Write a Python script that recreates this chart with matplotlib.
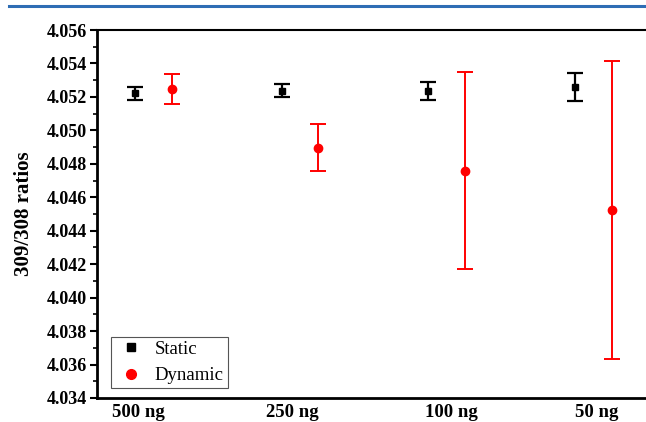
import matplotlib.pyplot as plt
from matplotlib.lines import Line2D

# sample loads and 309/308 ratios
labels = ['500 ng', '250 ng', '100 ng', '50 ng']
static_y = [4.05222, 4.05238, 4.05235, 4.05260]
static_err = [0.0004, 0.0004, 0.00055, 0.00085]
dynamic_y = [4.05245, 4.04896, 4.04760, 4.04522]
dynamic_err = [0.0009, 0.0014, 0.0059, 0.0089]

x_static = [1, 2, 3, 4]
x_dynamic = [v + 0.25 for v in x_static]

plt.rcParams['font.family'] = 'Liberation Serif'

fig = plt.figure(figsize=(6.46, 4.22), dpi=100)
ax = fig.add_axes([0.150, 0.0569, 0.89, 0.872])

ax.errorbar(x_static, static_y, yerr=static_err, fmt='s', color='black',
            markersize=5, capsize=5.5, elinewidth=1.6, capthick=1.6, label='Static')
ax.errorbar(x_dynamic, dynamic_y, yerr=dynamic_err, fmt='o', color='red',
            markersize=6, capsize=5.5, elinewidth=1.4, capthick=1.4, label='Dynamic')

ax.set_xlim(0.74, 4.66)
ax.set_ylim(4.034, 4.056)
ax.set_yticks([4.034 + 0.002 * i for i in range(12)])
ax.set_yticks([4.035 + 0.002 * i for i in range(11)], minor=True)
ax.set_xticks([1.02, 2.07, 3.16, 4.15])
ax.set_xticklabels(labels, fontsize=13.5, fontweight='bold')
ax.tick_params(axis='x', length=0, pad=4)
ax.tick_params(axis='y', which='major', direction='out', length=5, width=1.5, labelsize=13, pad=2)
ax.tick_params(axis='y', which='minor', direction='out', length=3, width=1.2)
for t in ax.get_yticklabels():
    t.set_fontweight('bold')
ax.set_ylabel('309/308 ratios', fontsize=15, fontweight='bold', labelpad=9)

ax.spines['left'].set_linewidth(2)
ax.spines['bottom'].set_linewidth(2)
ax.spines['top'].set_linewidth(1.5)
ax.spines['right'].set_visible(False)

leg = ax.legend(handles=[
    Line2D([], [], marker='s', color='black', linestyle='none', markersize=6),
    Line2D([], [], marker='o', color='red', linestyle='none', markersize=7)],
    labels=['Static', 'Dynamic'], loc='lower left', bbox_to_anchor=(0.024, 0.027),
    borderaxespad=0, fontsize=13.5, fancybox=False, edgecolor='#555555', framealpha=1,
    handlelength=1.8, handletextpad=0.35, borderpad=0.2, labelspacing=0.5)
leg.get_frame().set_linewidth(0.8)

# journal header rule
fig.add_artist(Line2D([0.014, 1.0], [0.986, 0.986], color='#2e6db4', linewidth=2.2))

fig.savefig('out.png', dpi=100)
